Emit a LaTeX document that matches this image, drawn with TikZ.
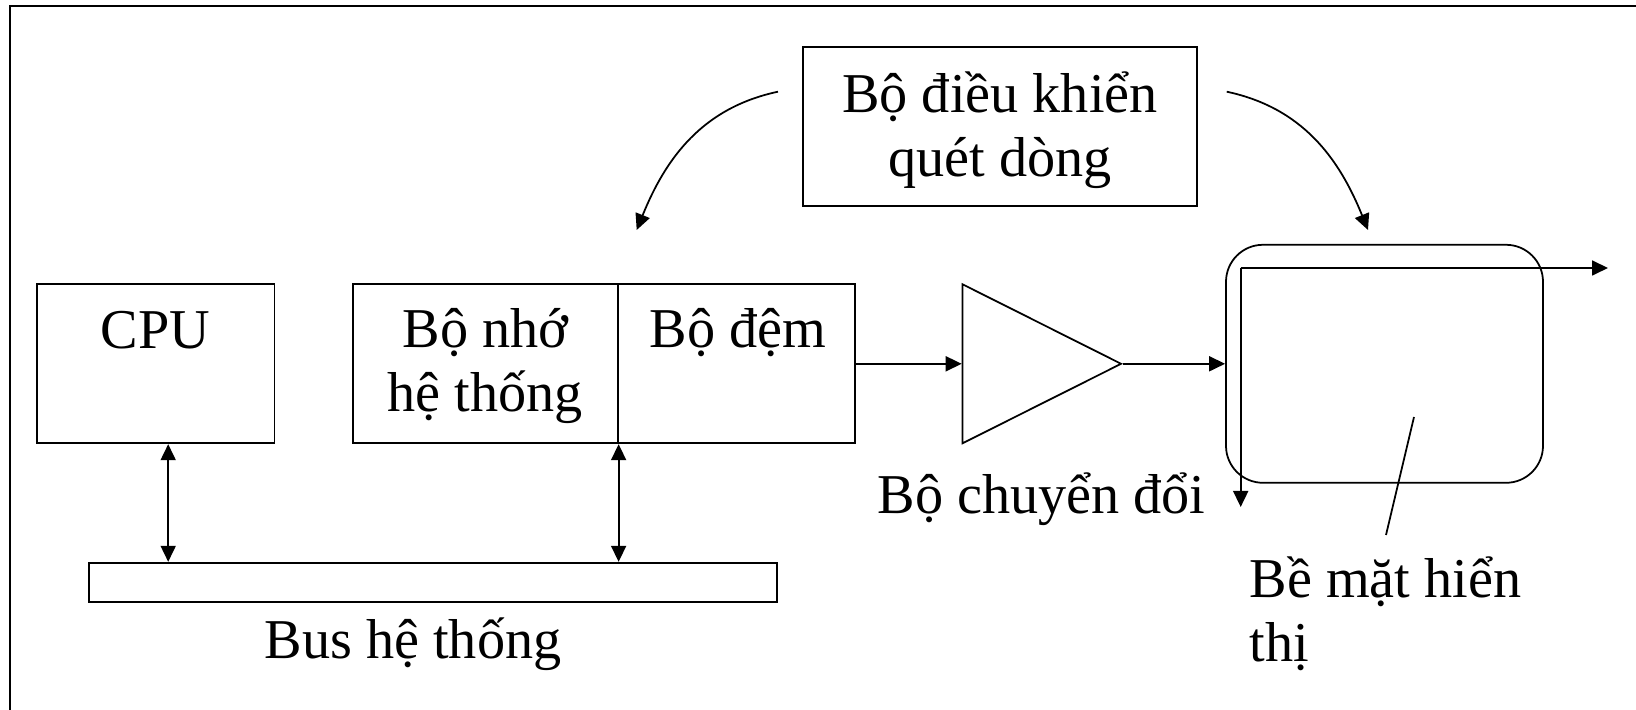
\documentclass[tikz,border=0pt]{standalone}
\usepackage{fontspec}
\setmainfont{Liberation Serif}
\usetikzlibrary{arrows.meta,shapes.geometric}

\begin{document}
\begin{tikzpicture}[
    font=\fontsize{16}{18.4}\selectfont,
    box/.style={draw, line width=0.5pt, inner sep=0pt},
    txt/.style={anchor=base, align=center, inner sep=0pt},
    tip/.style={-{Triangle[length=1.6mm,width=1.5mm]}, line width=0.5pt},
    both/.style={{Triangle[length=1.6mm,width=1.5mm]}-{Triangle[length=1.6mm,width=1.5mm]}, line width=0.5pt}]
        \useasboundingbox (0,0) rectangle (16.36,7.10);
        \draw [line width=0.8pt] (0.10,-1) -- (0.10,7.04) -- (17,7.04);

        \node [box, minimum width=2.377cm, minimum height=1.59cm] (cpu) at (1.556,3.462) {};
        \node [txt] (cpulbl) at (1.556,3.61) {CPU};

        \node [box, minimum width=2.647cm, minimum height=1.59cm] (mem) at (4.854,3.462) {};
        \node [box, minimum width=2.376cm, minimum height=1.59cm] (buf) at (7.365,3.462) {};
        \node [txt] (memlbl) at (4.854,2.983) {Bộ nhớ\\hệ thống};
        \node [txt] (buflbl) at (7.38,3.62) {Bộ đệm};

        \node [box, minimum width=6.877cm, minimum height=0.396cm] (bus) at (4.329,1.275) {};
        \node [txt] (buslbl) at (4.13,0.51) {Bus hệ thống};

        \draw [both] (cpu.south -| 1.682,0) -- (bus.north -| 1.682,0);
        \draw [both] (mem.south east) -- (mem.south east |- bus.north);

        \node [box, isosceles triangle, isosceles triangle stretches,
          minimum width=1.59cm, minimum height=1.585cm, anchor=lower side] (conv) at (9.617,3.462) {};
        \node [txt] (convlbl) at (10.415,1.967) {Bộ chuyển đổi};
        \draw [tip] (buf.east) -- (conv.lower side);

        \node [box, rounded corners=3.7mm, minimum width=3.17cm, minimum height=2.38cm] (screen) at (13.845,3.462) {};
        \draw [tip] (conv.apex) -- (screen.west);

        \coordinate (scan) at (12.407,4.42);
        \coordinate (rowend) at (16.08,4.42);
        \coordinate (colend) at (12.407,2.03);
        \draw [tip] (scan) -- (rowend);
        \draw [tip] (scan) -- (colend);

        \coordinate (ptrtop) at (14.14,2.93);
        \coordinate (ptrend) at (13.86,1.75);
        \draw [line width=0.5pt] (ptrtop) -- (ptrend);
        \node [txt, align=left, anchor=base west] (scrlbl) at (12.49,0.48) {Bề mặt hiển\\thị};

        \node [box, minimum width=3.94cm, minimum height=1.59cm] (ctl) at (10.0,5.835) {};
        \node [txt] (ctllbl) at (10.0,5.33) {Bộ điều khiển\\quét dòng};

        \coordinate (ctlleft) at (7.78,6.183);
        \coordinate (ctlright) at (12.267,6.183);
        \coordinate (memtop) at (6.367,4.80);
        \coordinate (scrtop) at (13.68,4.80);
        \draw [tip] (ctlleft) to [out=192, in=68] (memtop);
        \draw [tip] (ctlright) to [out=-12, in=112] (scrtop);
      \end{tikzpicture}
\end{document}
